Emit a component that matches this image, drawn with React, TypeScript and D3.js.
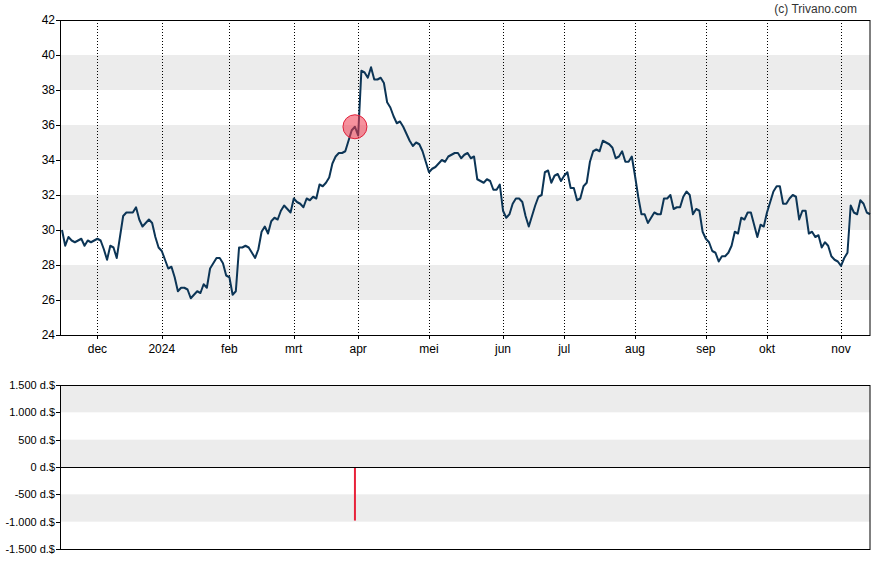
import React from "react";
import * as d3 from "d3";

// Daily closing prices (trading days, mid-Nov 2023 .. mid-Nov 2024)
const closePrices: number[] = [
  30.0, 29.1, 29.6, 29.4, 29.3, 29.4, 29.5, 29.1, 29.4, 29.3,
  29.4, 29.5, 29.4, 28.9, 28.3, 29.1, 29.0, 28.4, 29.6, 30.8,
  31.0, 31.0, 31.0, 31.3, 30.6, 30.2, 30.4, 30.6, 30.4, 29.6,
  29.0, 28.8, 28.3, 27.8, 27.9, 27.3, 26.5, 26.7, 26.7, 26.6,
  26.1, 26.3, 26.5, 26.4, 26.9, 26.7, 27.8, 28.1, 28.4, 28.4,
  28.1, 27.4, 27.3, 26.3, 26.5, 29.0, 29.0, 29.1, 29.0, 28.7,
  28.4, 28.9, 29.9, 30.2, 29.8, 30.5, 30.7, 30.6, 31.1, 31.4,
  31.2, 31.0, 31.8, 31.6, 31.5, 31.3, 31.8, 31.7, 31.9, 31.8,
  32.6, 32.5, 32.7, 33.0, 33.8, 34.2, 34.4, 34.4, 34.5, 35.1,
  35.7, 35.9, 35.4, 39.1, 39.0, 38.7, 39.3, 38.6, 38.6, 38.7,
  38.4, 37.3, 37.0, 36.5, 36.1, 36.2, 35.9, 35.5, 35.1, 34.8,
  35.0, 34.9, 34.5, 33.9, 33.3, 33.5, 33.6, 33.8, 34.0, 33.9,
  34.2, 34.3, 34.4, 34.4, 34.1, 34.3, 34.4, 34.1, 34.2, 32.9,
  32.8, 32.7, 32.9, 32.8, 32.3, 32.3, 32.6, 31.1, 30.7, 30.9,
  31.5, 31.8, 31.8, 31.6, 30.8, 30.2, 30.8, 31.4, 31.9, 32.0,
  33.3, 33.4, 32.7, 33.1, 33.2, 32.8, 33.1, 33.3, 32.4, 32.4,
  31.7, 31.8, 32.5, 32.7, 33.9, 34.5, 34.6, 34.5, 35.1, 35.0,
  34.9, 34.7, 34.1, 34.2, 34.5, 33.9, 33.9, 34.2, 33.1, 31.9,
  30.9, 30.9, 30.4, 30.7, 31.0, 30.9, 30.9, 31.8, 31.8, 32.0,
  31.2, 31.3, 31.3, 31.9, 32.2, 32.0, 30.9, 31.2, 31.1, 29.9,
  29.5, 29.3, 28.8, 28.7, 28.2, 28.5, 28.5, 28.7, 29.1, 29.9,
  29.8, 30.7, 30.6, 31.0, 31.0, 30.3, 29.6, 30.3, 30.2, 31.0,
  31.6, 32.2, 32.5, 32.5, 31.5, 31.5, 31.8, 32.0, 31.9, 30.6,
  31.1, 31.1, 29.8, 29.9, 29.6, 29.7, 29.0, 29.3, 29.1, 28.5,
  28.3, 28.2, 27.95, 28.4, 28.7, 31.4, 31.0, 30.9, 31.7, 31.5,
  31.0, 30.9,
];

// First trading day of each month (index into closePrices) and its label
const monthTickDays: number[] = [11, 31, 52, 72, 92, 114, 137, 156, 178, 200, 219, 242];
const monthTickLabels: string[] = ["dec", "2024", "feb", "mrt", "apr", "mei", "jun", "jul", "aug", "sep", "okt", "nov"];

const priceTicks: number[] = [24, 26, 28, 30, 32, 34, 36, 38, 40, 42];

// Insider transactions (trading-day index, amount in thousand $)
const tradeDays: number[] = [91];
const tradeAmounts: number[] = [-980];

const amountTicks: number[] = [-1500, -1000, -500, 0, 500, 1000, 1500];

const FONT = "'Liberation Sans', Arial, Helvetica, sans-serif";

const nlLocale = d3.formatLocale({
  decimal: ",",
  thousands: ".",
  grouping: [3],
  currency: ["", ""],
  minus: "-",
});
const fmtAmount = nlLocale.format(",d");

export default function App() {
  const left = 61;
  const right = 870;
  const top1 = 20;
  const bottom1 = 335;
  const top2 = 385;
  const bottom2 = 549;

  const x = d3.scaleLinear().domain([0, closePrices.length - 1]).range([62, right]);
  const y = d3.scaleLinear().domain([24, 42]).range([bottom1, top1]);
  const y2 = d3.scaleLinear().domain([-1500, 1500]).range([bottom2, top2]);

  const line = d3
    .line<number>()
    .x((_, i) => x(i))
    .y((d) => y(d));

  const priceBandsIdx = priceTicks.slice(0, -1).map((t, i) => i).filter((i) => i % 2 === 1);
  const amountBandsIdx = amountTicks.slice(0, -1).map((t, i) => i).filter((i) => i % 2 === 1);

  return (
    <svg
      width={888}
      height={565}
      style={{ position: "absolute", left: 0, top: 0, background: "#fff" }}
      fontFamily={FONT}
    >
      <rect x={0} y={0} width={888} height={565} fill="#fff" />
      <text x={857} y={13} textAnchor="end" fontSize={12} fill="#333">
        (c) Trivano.com
      </text>

      {/* ---- Price panel ---- */}
      {priceBandsIdx.map((i) => (
        <rect
          key={"pb" + i}
          x={left}
          width={right - left}
          y={y(priceTicks[i + 1])}
          height={y(priceTicks[i]) - y(priceTicks[i + 1])}
          fill="#ececec"
        />
      ))}
      {monthTickDays.map((d, i) => (
        <g key={"mt" + i}>
          <line
            x1={Math.round(x(d)) + 0.5}
            x2={Math.round(x(d)) + 0.5}
            y1={top1}
            y2={bottom1}
            stroke="#000"
            strokeWidth={1}
            strokeDasharray="1,2"
          />
          <line
            x1={Math.round(x(d)) + 0.5}
            x2={Math.round(x(d)) + 0.5}
            y1={bottom1}
            y2={bottom1 + 4}
            stroke="#000"
          />
          <text x={x(d)} y={bottom1 + 18} textAnchor="middle" fontSize={12} fill="#000">
            {monthTickLabels[i]}
          </text>
        </g>
      ))}
      <path d={line(closePrices) ?? ""} fill="none" stroke="#0c3556" strokeWidth={2} strokeLinejoin="round" />
      {tradeDays.map((d, i) => (
        <circle
          key={"tc" + i}
          cx={x(d)}
          cy={y(closePrices[d])}
          r={12}
          fill="#f0384f"
          fillOpacity={0.55}
          stroke="#e0203a"
          strokeWidth={1}
        />
      ))}
      <rect
        x={left - 0.5}
        y={top1 + 0.5}
        width={right - left + 0.5}
        height={bottom1 - top1}
        fill="none"
        stroke="#000"
        strokeWidth={1}
      />
      {priceTicks.map((t) => (
        <g key={"pt" + t}>
          <line x1={left - 5} x2={left} y1={Math.round(y(t)) + 0.5} y2={Math.round(y(t)) + 0.5} stroke="#000" />
          <text x={left - 6} y={y(t)} dy="0.35em" textAnchor="end" fontSize={12} fill="#000">
            {t}
          </text>
        </g>
      ))}

      {/* ---- Insider trade panel ---- */}
      {amountBandsIdx.map((i) => (
        <rect
          key={"ab" + i}
          x={left}
          width={right - left}
          y={y2(amountTicks[i + 1])}
          height={y2(amountTicks[i]) - y2(amountTicks[i + 1])}
          fill="#ececec"
        />
      ))}
      {tradeDays.map((d, i) => (
        <line
          key={"tb" + i}
          x1={x(d)}
          x2={x(d)}
          y1={y2(0)}
          y2={y2(tradeAmounts[i])}
          stroke="#e8223a"
          strokeWidth={2}
        />
      ))}
      <line x1={left} x2={right} y1={Math.round(y2(0)) + 0.5} y2={Math.round(y2(0)) + 0.5} stroke="#000" />
      <rect
        x={left - 0.5}
        y={top2 + 0.5}
        width={right - left + 0.5}
        height={bottom2 - top2}
        fill="none"
        stroke="#000"
        strokeWidth={1}
      />
      {amountTicks.map((t) => (
        <g key={"at" + t}>
          <line x1={left - 5} x2={left} y1={Math.round(y2(t)) + 0.5} y2={Math.round(y2(t)) + 0.5} stroke="#000" />
          <text x={left - 6} y={y2(t)} dy="0.35em" textAnchor="end" fontSize={11} fill="#000">
            {fmtAmount(t) + " d.$"}
          </text>
        </g>
      ))}
    </svg>
  );
}
